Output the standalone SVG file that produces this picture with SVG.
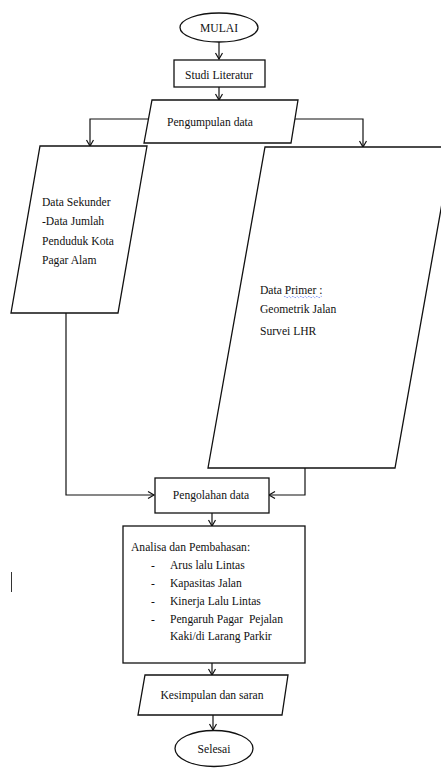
<svg xmlns="http://www.w3.org/2000/svg" width="441" height="769" viewBox="0 0 441 769" font-family="'Liberation Serif', 'Times New Roman', Tinos, 'DejaVu Serif', serif">
<defs>
<style>
.s{fill:#fff;stroke:#111;stroke-width:1.3}
.c{fill:none;stroke:#111;stroke-width:1.2}
.t{font-family:'Liberation Serif','Times New Roman',Tinos,'DejaVu Serif',serif;font-size:11.6px;fill:#111}
.m{text-anchor:middle}
</style>
<marker id="a" markerWidth="10" markerHeight="10" refX="7" refY="4" orient="auto" markerUnits="userSpaceOnUse">
<path d="M1,0.5 L7,4 L1,7.5" fill="none" stroke="#111" stroke-width="1.2"/>
</marker>
</defs>
<rect width="441" height="769" fill="#fff"/>
<g id="connectors">
<path class="c" d="M219,42 V59" marker-end="url(#a)"/>
<path class="c" d="M219,87 V100" marker-end="url(#a)"/>
<path class="c" d="M149,119 H90 V146" marker-end="url(#a)"/>
<path class="c" d="M294,119 H363 V147" marker-end="url(#a)"/>
<path class="c" d="M66,313 V495 H154" marker-end="url(#a)"/>
<path class="c" d="M305,468 V495 H269" marker-end="url(#a)"/>
<path class="c" d="M212,513 V526" marker-end="url(#a)"/>
<path class="c" d="M212,663 V675" marker-end="url(#a)"/>
<path class="c" d="M213,715 V730" marker-end="url(#a)"/>
</g>
<g id="mulai">
<ellipse class="s" cx="219" cy="27.5" rx="39" ry="14.5"/>
<text class="t m" x="219" y="32">MULAI</text>
</g>
<g id="studi">
<rect class="s" x="174" y="60" width="91" height="27"/>
<text class="t m" x="219" y="79">Studi Literatur</text>
</g>
<g id="pengumpulan">
<polygon class="s" points="152,100 298,100 291,143 144,143"/>
<text class="t m" x="210" y="126">Pengumpulan data</text>
</g>
<g id="sekunder">
<polygon class="s" points="40,146 147,146 118,313 11,313"/>
<text class="t" x="42" y="206">Data Sekunder</text>
<text class="t" x="42" y="225">-Data Jumlah</text>
<text class="t" x="42" y="245">Penduduk Kota</text>
<text class="t" x="42" y="264">Pagar Alam</text>
</g>
<g id="primer">
<polygon class="s" points="265,147 452,147 395,468 208,468"/>
<text class="t" x="260" y="294">Data Primer :</text>
<path d="M284,297 q1,-1.5 2,0 t2,0 t2,0 t2,0 t2,0 t2,0 t2,0 t2,0 t2,0 t2,0 t2,0 t2,0 t2,0 t2,0 t2,0 t2,0 t2,0 t2,0 t2,0" fill="none" stroke="#3355ee" stroke-width="0.8" stroke-dasharray="1,1"/>
<text class="t" x="260" y="313">Geometrik Jalan</text>
<text class="t" x="260" y="335">Survei LHR</text>
</g>
<g id="pengolahan">
<rect class="s" x="155" y="478" width="114" height="35"/>
<text class="t m" x="211" y="499">Pengolahan data</text>
</g>
<g id="analisa">
<rect class="s" x="123" y="526" width="182" height="137"/>
<text class="t" x="131" y="551">Analisa dan Pembahasan:</text>
<text class="t" x="151" y="569">-</text>
<text class="t" x="170" y="569">Arus lalu Lintas</text>
<text class="t" x="151" y="587">-</text>
<text class="t" x="170" y="587">Kapasitas Jalan</text>
<text class="t" x="151" y="605">-</text>
<text class="t" x="170" y="605">Kinerja Lalu Lintas</text>
<text class="t" x="151" y="623">-</text>
<text class="t" x="170" y="623" xml:space="preserve">Pengaruh Pagar  Pejalan</text>
<text class="t" x="170" y="640">Kaki/di Larang Parkir</text>
</g>
<g id="kesimpulan">
<polygon class="s" points="145,675 288,675 282,715 138,715"/>
<text class="t m" x="212" y="699">Kesimpulan dan saran</text>
</g>
<g id="selesai">
<ellipse class="s" cx="214" cy="748.5" rx="39" ry="18"/>
<text class="t m" x="214" y="753">Selesai</text>
</g>
<line x1="11.5" y1="572" x2="11.5" y2="592" stroke="#333" stroke-width="1"/>
</svg>
